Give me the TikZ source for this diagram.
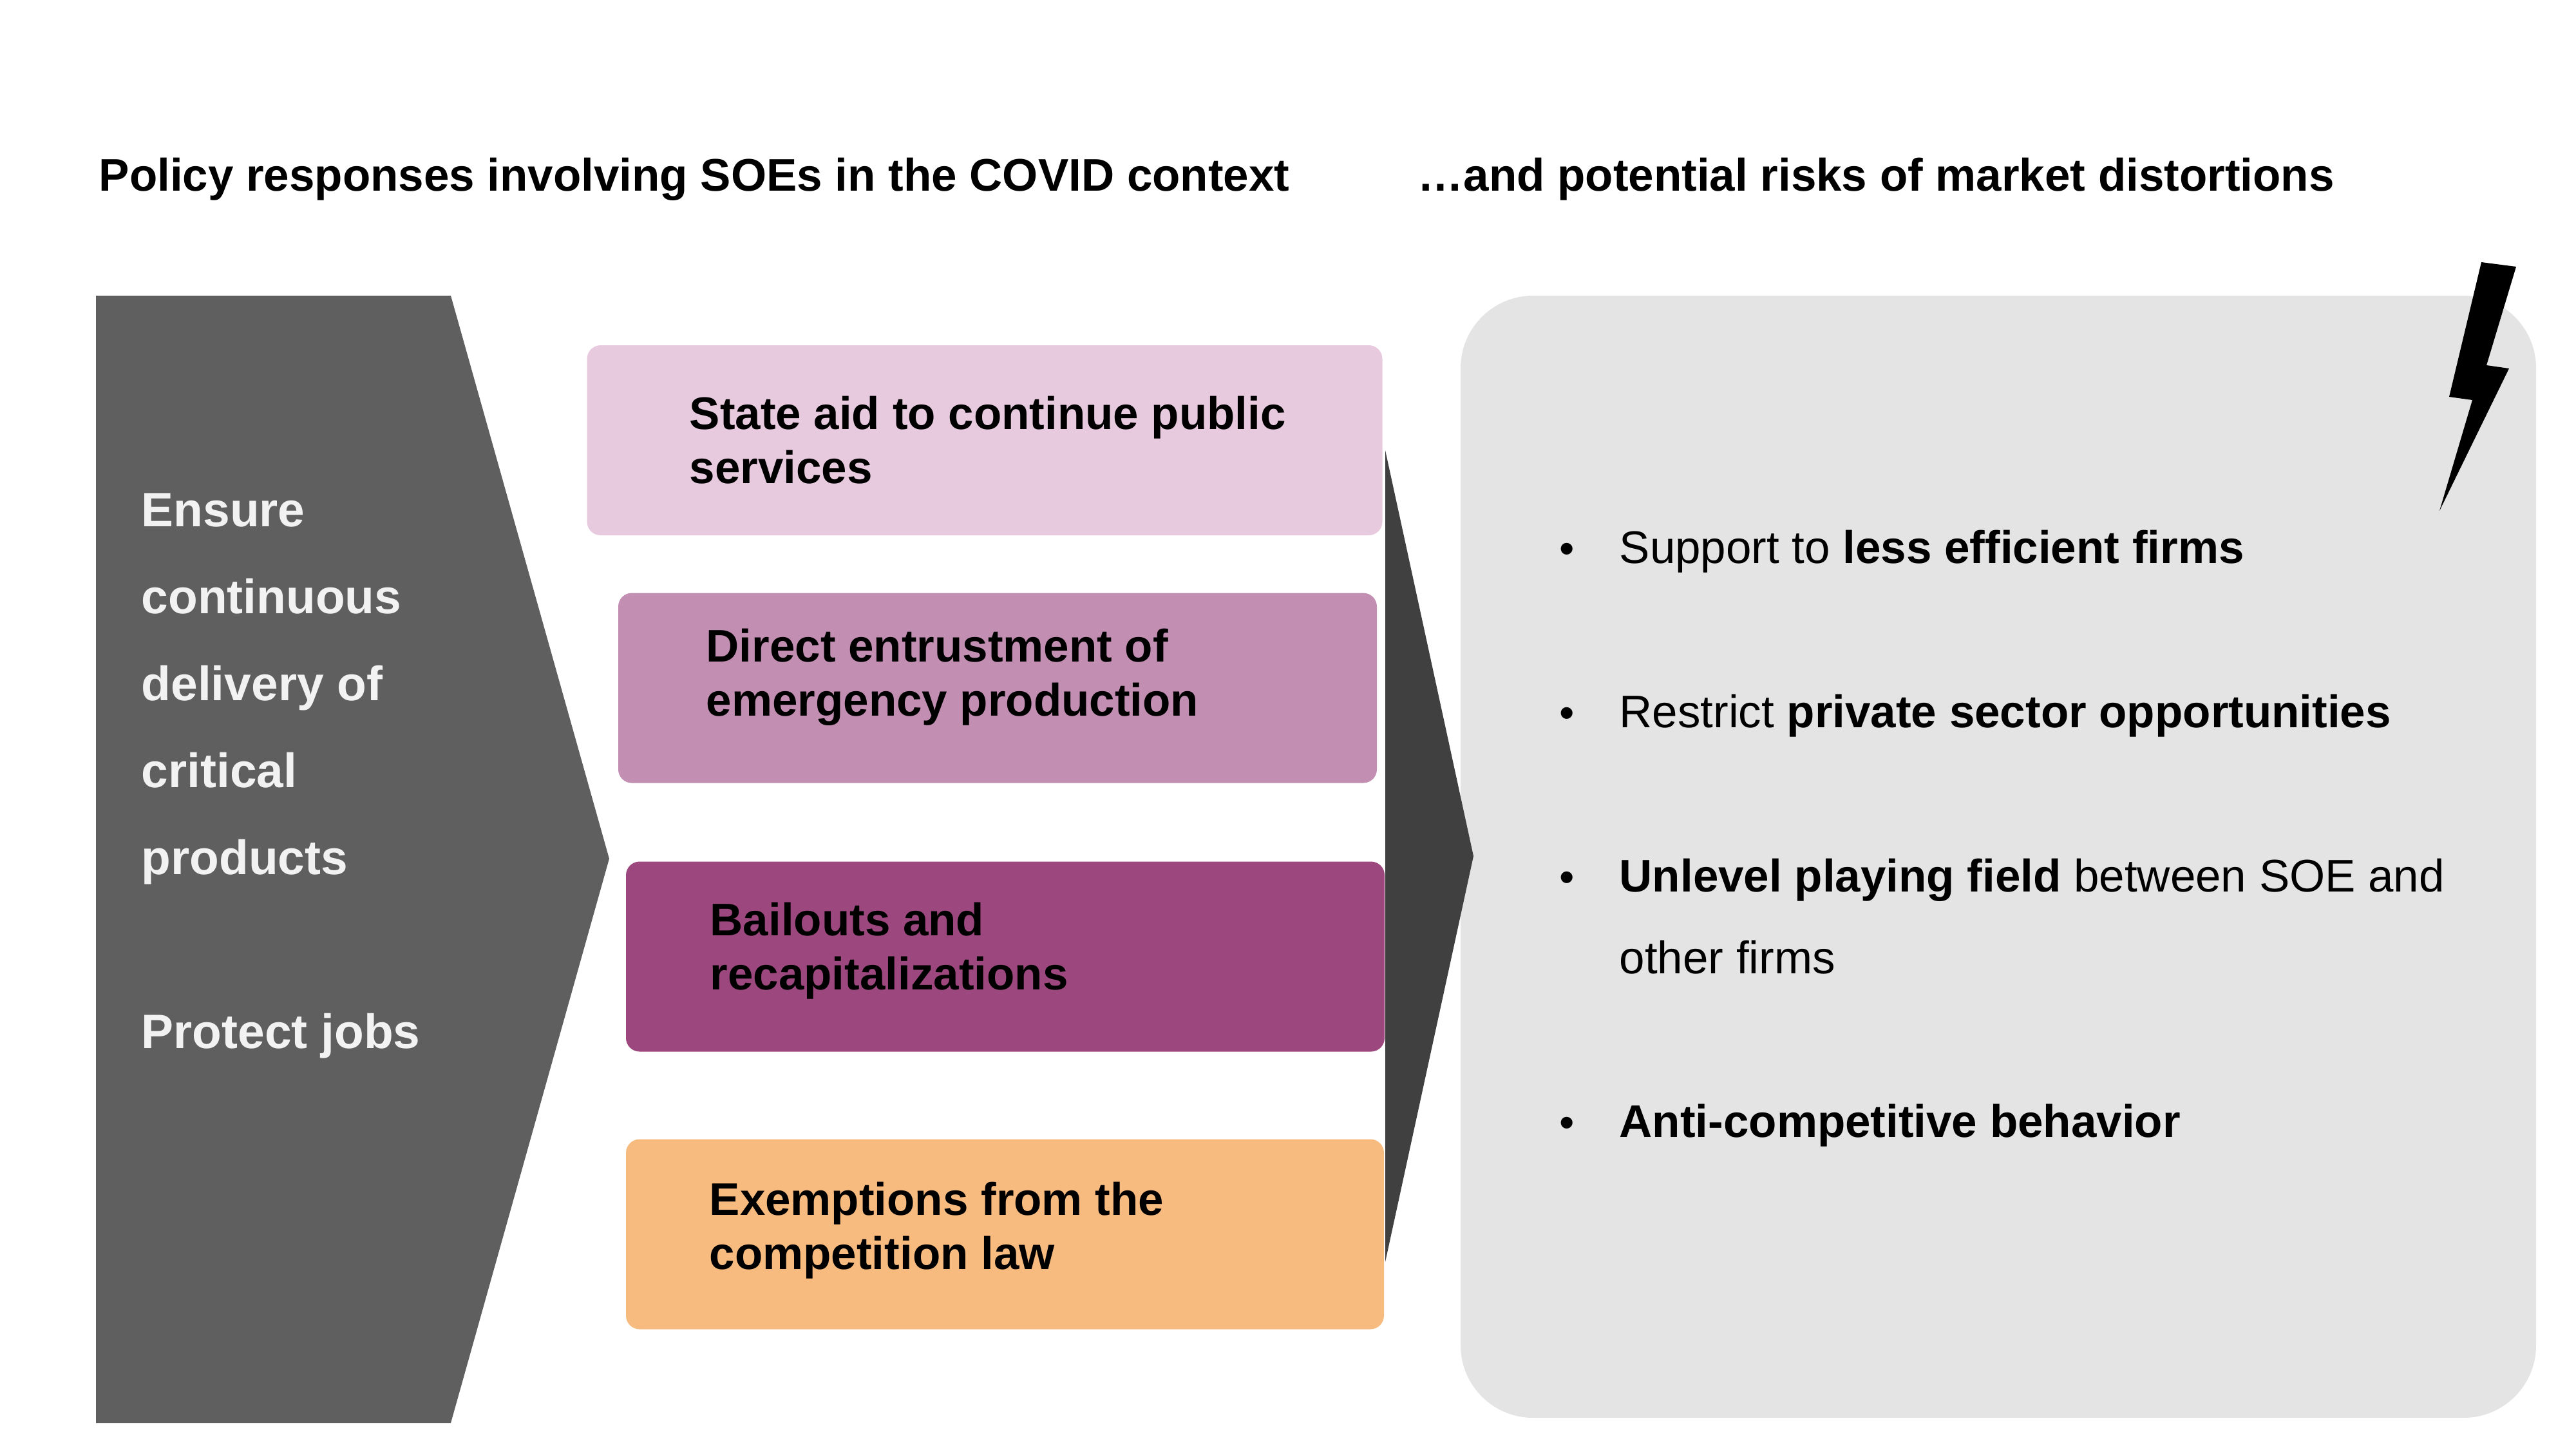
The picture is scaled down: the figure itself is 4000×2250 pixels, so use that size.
\documentclass[tikz,border=0pt]{standalone}
\usepackage{fontspec}
\setmainfont{Liberation Sans}
\definecolor{arrowleft}{HTML}{5F5F5F}
\definecolor{arrowright}{HTML}{404040}
\definecolor{panelgray}{HTML}{E4E4E4}
\definecolor{goalwhite}{HTML}{F2F2F2}
\definecolor{aidpink}{HTML}{E8CADF}
\definecolor{entrustmauve}{HTML}{C28EB2}
\definecolor{bailoutplum}{HTML}{9C487E}
\definecolor{exemptorange}{HTML}{F8BB7F}
\tikzset{
  policybox/.style={rounded corners=6pt, minimum height=295*0.01cm, inner sep=0pt},
  boxtext/.style={anchor=west, align=left, inner sep=0pt, font=\fontsize{20.17}{24}\selectfont\bfseries},
  headtext/.style={anchor=base west, inner sep=0pt, font=\fontsize{20.17}{24}\selectfont\bfseries},
  risktext/.style={anchor=base west, inner sep=0pt, font=\fontsize{20.17}{24}\selectfont},
  bullettext/.style={anchor=base west, inner sep=0pt, font=\fontsize{19}{24}\selectfont},
}
\begin{document}
\begin{tikzpicture}[x=0.01cm, y=-0.01cm]

    \useasboundingbox (0, 0) rectangle (4000, 2250);

    % Titles
    \node[headtext] (titleleft) at (153, 296) {Policy responses involving SOEs in the COVID context};
    \node[headtext] (titleright) at (2201, 296) {…and potential risks of market distortions};

    % Left arrow
    \fill[arrowleft] (149, 459) -- (700, 459) -- (946, 1333) -- (700, 2209) -- (149, 2209) -- cycle;
    \node[anchor=north west, align=left, inner sep=0pt, text=goalwhite, font=\fontsize{21.3}{38.4}\selectfont\bfseries] (goals) at (219, 765)
        {Ensure\\continuous\\delivery of\\critical\\products\\[38.4pt]Protect jobs};

    % Right panel and middle arrow
    \fill[panelgray, rounded corners=32pt] (2268, 459) rectangle (3938, 2201);
    \fill[arrowright] (2151, 699) -- (2288, 1329) -- (2151, 1959) -- cycle;

    % Lightning
    \fill[black] (3853, 407) -- (3907, 414) -- (3861, 567) -- (3896, 572) -- (3788, 793) -- (3839, 621) -- (3803, 616) -- cycle;

    % Policy boxes
    \node[policybox, fill=aidpink, minimum width=1235*0.01cm] (aid) at (1529, 683.5) {};
    \node[policybox, fill=entrustmauve, minimum width=1178*0.01cm] (entrust) at (1549, 1068) {};
    \node[policybox, fill=bailoutplum, minimum width=1178*0.01cm] (bailout) at (1561, 1485) {};
    \node[policybox, fill=exemptorange, minimum width=1177*0.01cm] (exempt) at (1560.5, 1916) {};

    % Box labels
    \node[boxtext] (aidtext) at (1070, 683) {State aid to continue public\\services};
    \node[boxtext] (entrusttext) at (1096, 1051) {Direct entrustment of\\emergency production};
    \node[boxtext] (bailouttext) at (1102, 1476) {Bailouts and\\recapitalizations};
    \node[boxtext] (exempttext) at (1101, 1910) {Exemptions from the\\competition law};

    % Risks
    \node[bullettext] (bulletone) at (2421, 874) {•};
    \node[risktext] (riskone) at (2514, 874) {Support to \textbf{less efficient firms}};
    \node[bullettext] (bullettwo) at (2421, 1129) {•};
    \node[risktext] (risktwo) at (2514, 1129) {Restrict \textbf{private sector opportunities}};
    \node[bullettext] (bulletthree) at (2421, 1384) {•};
    \node[risktext] (riskthree) at (2514, 1384) {\textbf{Unlevel playing field} between SOE and};
    \node[risktext] (riskthreeb) at (2514, 1511) {other firms};
    \node[bullettext] (bulletfour) at (2421, 1765) {•};
    \node[risktext] (riskfour) at (2514, 1765) {\textbf{Anti-competitive behavior}};

\end{tikzpicture}
\end{document}
